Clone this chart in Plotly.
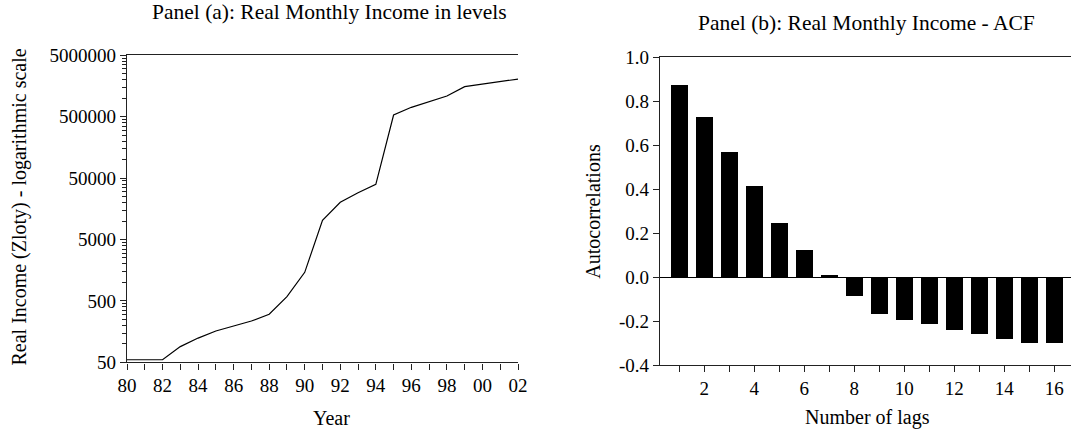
import plotly.graph_objects as go

# ---- data -------------------------------------------------------------
years = list(range(1980, 2003))
year_labels = ["80", "", "82", "", "84", "", "86", "", "88", "", "90", "",
               "92", "", "94", "", "96", "", "98", "", "00", "", "02"]
real_income = [55, 55, 55, 90, 124, 162, 197, 235, 303, 585, 1460,
               10300, 20200, 28900, 39600, 533000, 711000, 891000,
               1087000, 1541000, 1705000, 1880000, 2050000]

income_ticks = [50, 500, 5000, 50000, 500000, 5000000]
income_tick_labels = ["50", "500", "5000", "50000", "500000", "5000000"]

lags = list(range(1, 17))
lag_labels = ["", "2", "", "4", "", "6", "", "8", "", "10", "", "12", "", "14", "", "16"]
acf = [0.871, 0.727, 0.568, 0.412, 0.245, 0.122, 0.006, -0.089,
       -0.171, -0.196, -0.217, -0.241, -0.260, -0.281, -0.299, -0.299]
acf_ticks = [-0.4, -0.2, 0.0, 0.2, 0.4, 0.6, 0.8, 1.0]
acf_tick_labels = ["-0.4", "-0.2", "0.0", "0.2", "0.4", "0.6", "0.8", "1.0"]

# ---- page geometry ----------------------------------------------------
W, H = 1071, 430
FONT = "Liberation Serif, Times New Roman, serif"
AX = "#222222"


def px_x(p):
    return p / W


def px_y(p):
    return 1 - p / H


# minor ticks on the log axis: multiples of each labelled decade value
minor_vals = [b * k for b in income_ticks[:-1] for k in range(2, 10)]

fig = go.Figure()

fig.add_trace(go.Scatter(
    x=years, y=real_income, mode="lines",
    line=dict(color="black", width=1.2),
    xaxis="x", yaxis="y", showlegend=False, hoverinfo="skip"))

fig.add_trace(go.Bar(
    x=lags, y=acf, width=0.66,
    marker=dict(color="black", line=dict(width=0)),
    xaxis="x2", yaxis="y2", showlegend=False, hoverinfo="skip"))

tick_font = dict(family=FONT, size=19, color="black")

fig.update_layout(
    width=W, height=H,
    margin=dict(l=0, r=0, t=0, b=0, pad=0, autoexpand=False),
    paper_bgcolor="white", plot_bgcolor="white",
    font=dict(family=FONT, color="black"),
    xaxis=dict(
        domain=[px_x(127), px_x(518)], anchor="y",
        range=[1980, 2002], tickmode="array", tickvals=years, ticktext=year_labels,
        ticks="outside", ticklen=6, tickwidth=1.2, tickcolor=AX,
        showline=True, linecolor=AX, linewidth=1.4, mirror=True,
        showgrid=False, zeroline=False, tickfont=tick_font, automargin=False),
    yaxis=dict(
        domain=[px_y(362.3), px_y(55.3)], anchor="x",
        type="log", range=[1.69897, 6.69897],
        tickmode="array", tickvals=income_ticks, ticktext=income_tick_labels,
        ticks="outside", ticklen=6, tickwidth=1.2, tickcolor=AX,
        minor=dict(tickmode="array", tickvals=minor_vals, ticks="outside",
                   ticklen=4, tickwidth=1, tickcolor=AX, showgrid=False),
        showline=True, linecolor=AX, linewidth=1.4,
        showgrid=False, zeroline=False, tickfont=tick_font, automargin=False),
    xaxis2=dict(
        domain=[px_x(660), 1.0], anchor="y2",
        range=[0.23, 16.67], tickmode="array", tickvals=lags, ticktext=lag_labels,
        ticks="outside", ticklen=6, tickwidth=1.2, tickcolor=AX,
        showline=True, linecolor=AX, linewidth=1.4, mirror=True,
        showgrid=False, zeroline=False, tickfont=tick_font, automargin=False),
    yaxis2=dict(
        domain=[px_y(365), px_y(57.3)], anchor="x2",
        range=[-0.4, 1.0], tickmode="array", tickvals=acf_ticks, ticktext=acf_tick_labels,
        ticks="outside", ticklen=6, tickwidth=1.2, tickcolor=AX,
        showline=True, linecolor=AX, linewidth=1.4,
        showgrid=False, zeroline=True, zerolinecolor="black", zerolinewidth=1.3,
        tickfont=tick_font, automargin=False),
    bargap=0,
)

ann_font = dict(family=FONT, size=20, color="black")
title_font = dict(family=FONT, size=21.5, color="black")

annotations = [
    dict(text="Panel (a): Real Monthly Income in levels", x=px_x(329), y=px_y(12),
         font=title_font),
    dict(text="Panel (b): Real Monthly Income - ACF", x=px_x(866), y=px_y(23),
         font=title_font),
    dict(text="Year", x=px_x(331), y=px_y(418), font=ann_font),
    dict(text="Number of lags", x=px_x(867.5), y=px_y(417), font=ann_font),
    dict(text="Real Income (Zloty) - logarithmic scale", x=px_x(19), y=px_y(207.5),
         textangle=-90, font=ann_font),
    dict(text="Autocorrelations", x=px_x(593), y=px_y(211.7),
         textangle=-90, font=ann_font),
]
for a in annotations:
    a.update(xref="paper", yref="paper", xanchor="center", yanchor="middle",
             showarrow=False)
fig.update_layout(annotations=annotations)

fig.write_html(
    "out.html",
    config={"responsive": False, "displayModeBar": False},
    post_script="document.body.style.margin='0';document.body.style.overflow='hidden';",
)
